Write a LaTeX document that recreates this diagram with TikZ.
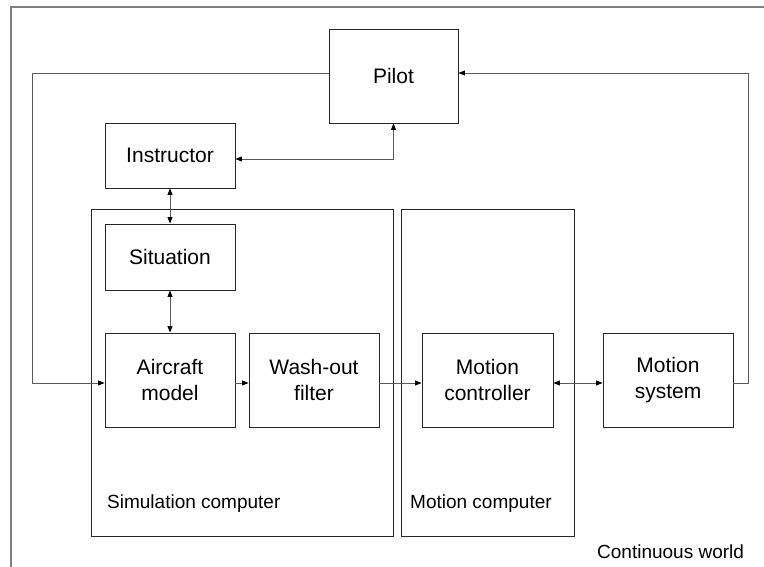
\documentclass[tikz,border=0pt]{standalone}
\usepackage{fontspec}
\setmainfont{Liberation Sans}
\usetikzlibrary{arrows.meta,calc}
\definecolor{linegray}{HTML}{5A5A5A}
\definecolor{framegray}{HTML}{808080}
\begin{document}
\begin{tikzpicture}[x=1pt,y=-1pt,
  blk/.style={draw=black!85,line width=0.9pt,rectangle,inner sep=0pt,align=center,font=\fontsize{21}{25.5}\selectfont},
  grp/.style={draw=black!85,line width=0.9pt},
  conn/.style={draw=linegray,line width=0.9pt},
  tip/.style={-{Triangle[length=6.5pt,width=5pt,color=black,fill=black]}},
  tips/.style={{Triangle[length=6.5pt,width=5pt,color=black,fill=black]}-{Triangle[length=6.5pt,width=5pt,color=black,fill=black]}},
  lbl/.style={anchor=base west,inner sep=0pt,font=\fontsize{19}{22}\selectfont}]
\useasboundingbox (0,0) rectangle (764,567);
% outer frame (left and top edges)
\draw[framegray,line width=1.6pt] (11,567) -- (11,7) -- (764,7);
% group boxes
\draw[grp] (91,209) rectangle (393,536);
\draw[grp] (401,209) rectangle (574,536);
\node[lbl] (simlbl) at (107,508) {Simulation computer};
\node[lbl] (motlbl) at (410,508) {Motion computer};
\node[lbl] (cwlbl) at (597,558) {Continuous world};
% blocks
\node[blk,minimum width=129pt,minimum height=94pt] (pilot) at (393.5,76) {Pilot};
\node[blk,minimum width=130pt,minimum height=65pt] (instr) at (170,155.5) {Instructor};
\node[blk,minimum width=130pt,minimum height=66pt] (sit) at (170,257) {Situation};
\node[blk,minimum width=130pt,minimum height=94pt] (ac) at (170,380) {Aircraft\\model};
\node[blk,minimum width=130pt,minimum height=94pt] (wo) at (314,380) {Wash-out\\filter};
\node[blk,minimum width=131pt,minimum height=94pt] (mc) at (487.5,380) {Motion\\controller};
\node[blk,minimum width=130pt,minimum height=94pt] (ms) at (668,380) {Motion\\system};
% helper coordinates
\coordinate (fbl) at (32,73);
\coordinate (fbr) at (748,73);
\coordinate (lvl) at (0,383);
\coordinate (ipy) at (0,159);
% connectors
\draw[conn,tip] (pilot.west |- fbl) -- (fbl) -- (fbl |- lvl) -- (ac.west |- lvl);
\draw[conn,tip] (ms.east |- lvl) -- (fbr |- lvl) -- (fbr) -- (pilot.east |- fbr);
\draw[conn,tips] (instr.east |- ipy) -- (pilot.south |- ipy) -- (pilot.south);
\draw[conn,tips] (instr.south) -- (sit.north);
\draw[conn,tips] (sit.south) -- (ac.north);
\draw[conn,tip] (ac.east |- lvl) -- (wo.west |- lvl);
\draw[conn,tip] (wo.east |- lvl) -- (mc.west |- lvl);
\draw[conn,tips] (mc.east |- lvl) -- (ms.west |- lvl);
\end{tikzpicture}
\end{document}
